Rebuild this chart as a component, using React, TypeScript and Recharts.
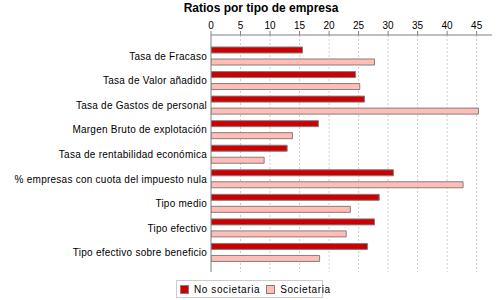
import React from 'react';
import { BarChart, Bar, XAxis, YAxis, ReferenceLine } from 'recharts';

const categories = [
  'Tasa de Fracaso',
  'Tasa de Valor añadido',
  'Tasa de Gastos de personal',
  'Margen Bruto de explotación',
  'Tasa de rentabilidad económica',
  '% empresas con cuota del impuesto nula',
  'Tipo medio',
  'Tipo efectivo',
  'Tipo efectivo sobre beneficio',
];
const noSocietaria = [15.5, 24.5, 26.0, 18.2, 12.9, 30.9, 28.5, 27.7, 26.5];
const societaria = [27.7, 25.2, 45.3, 13.8, 9.0, 42.7, 23.6, 22.9, 18.4];
const xTicks = [0, 5, 10, 15, 20, 25, 30, 35, 40, 45];

const DARK = '#CC0000';
const LIGHT = '#FFBDB5';
const EDGE = '#808080';
const FONT = '"Liberation Sans", Arial, sans-serif';

const data = categories.map((name, i) => ({
  name,
  noSoc: noSocietaria[i],
  soc: societaria[i],
}));

// single-line category label (default tick wraps long text)
const CategoryTick = (props: any) => {
  const { x, y, payload } = props;
  return (
    <text x={x} y={y} dy={3.5} textAnchor="end" fontSize={10} fill="#000" fontFamily={FONT} letterSpacing={0.25}>
      {payload.value}
    </text>
  );
};

const Swatch = ({ color }: { color: string }) => (
  <span
    style={{
      display: 'inline-block',
      width: 7,
      height: 7,
      background: color,
      border: `1px solid ${EDGE}`,
      marginRight: 5,
    }}
  />
);

export default function App() {
  return (
    <div style={{ position: 'absolute', left: 0, top: 0, width: 500, height: 300, background: '#fff', fontFamily: FONT }}>
      <div
        style={{
          position: 'absolute',
          top: 1,
          left: 0,
          width: 522,
          textAlign: 'center',
          fontSize: 12,
          fontWeight: 'bold',
          color: '#000',
        }}
      >
        Ratios por tipo de empresa
      </div>
      <BarChart
        width={500}
        height={300}
        data={data}
        layout="vertical"
        margin={{ top: 5, right: 8, bottom: 28, left: 0 }}
        barSize={6}
        barGap={6}
      >
        {/* dashed vertical gridlines at the tick values, kept behind the bars */}
        {xTicks.slice(1).map((t) => (
          <ReferenceLine key={t} x={t} stroke="#cccccc" strokeDasharray="2 2" zIndex={-100} />
        ))}
        <XAxis
          type="number"
          orientation="top"
          domain={[0, 47.6]}
          ticks={xTicks}
          height={30}
          allowDataOverflow
          stroke={EDGE}
          tickSize={4}
          tickMargin={2}
          tick={{ fontSize: 10, fill: '#000', fontFamily: FONT }}
        />
        <YAxis
          type="category"
          dataKey="name"
          width={211}
          stroke={EDGE}
          tickLine={false}
          tickSize={0}
          tickMargin={4}
          interval={0}
          padding={{ top: 9, bottom: 7 }}
          tick={<CategoryTick />}
        />
        <Bar dataKey="noSoc" fill={DARK} stroke={EDGE} strokeWidth={1} isAnimationActive={false} />
        <Bar dataKey="soc" fill={LIGHT} stroke={EDGE} strokeWidth={1} isAnimationActive={false} />
      </BarChart>
      <div
        style={{
          position: 'absolute',
          left: 176,
          top: 280,
          width: 145,
          height: 16,
          border: '1px solid #cccccc',
          display: 'flex',
          alignItems: 'center',
          fontSize: 10,
          letterSpacing: 0.6,
          color: '#000',
          whiteSpace: 'nowrap',
          boxSizing: 'content-box',
        }}
      >
        <span style={{ display: 'flex', alignItems: 'center', marginLeft: 3 }}>
          <Swatch color={DARK} />
          No societaria
        </span>
        <span style={{ display: 'flex', alignItems: 'center', marginLeft: 6 }}>
          <Swatch color={LIGHT} />
          Societaria
        </span>
      </div>
    </div>
  );
}
